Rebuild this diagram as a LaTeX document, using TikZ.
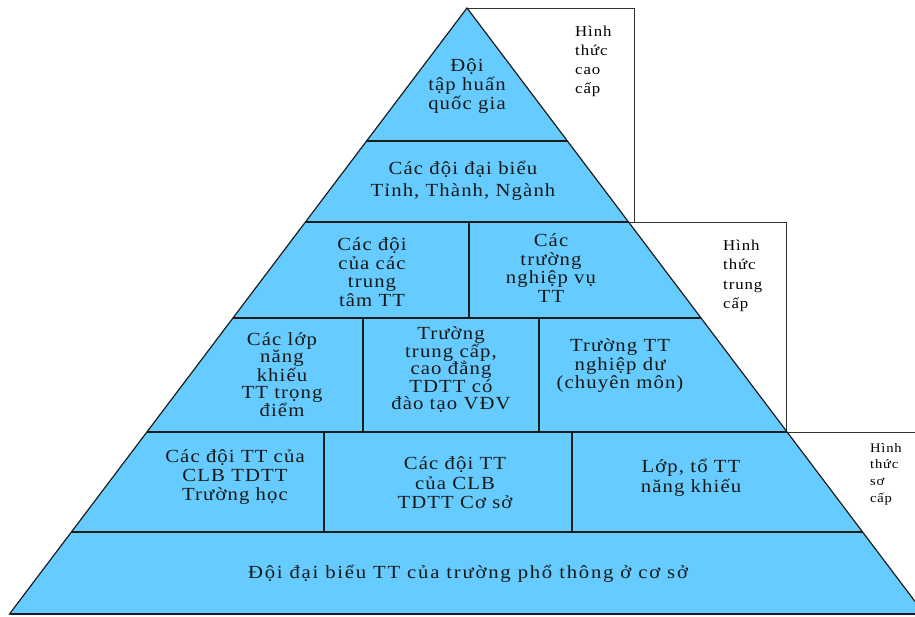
\documentclass[tikz,border=0pt]{standalone}
\usepackage{fontspec}
\setmainfont{Liberation Serif}[FakeStretch=1.12, LetterSpace=6]

\definecolor{pyr}{RGB}{102,204,255}
\definecolor{edge}{RGB}{28,28,28}
\definecolor{ink}{RGB}{24,24,24}
\definecolor{boxline}{RGB}{50,50,50}

\begin{document}
\begin{tikzpicture}[x=1pt, y=-1pt,
  tier/.style={fill=pyr, draw=edge, line width=1.2pt, line join=miter},
  sep/.style={draw=edge, line width=1.2pt},
  sidebox/.style={draw=boxline, line width=0.9pt, fill=white},
  lbl/.style={align=center, text=ink, inner sep=0pt, font=\fontsize{18.5}{19}\selectfont},
  side/.style={align=left, anchor=west, text=black, inner sep=0pt, font=\fontsize{15}{19}\selectfont}]

\clip (0,0) rectangle (915,616);

% side frames standing behind the pyramid
\draw[sidebox] (467,8) rectangle (634,222);
\draw[sidebox] (600,222) rectangle (786,432);
\draw[sidebox] (760,432) rectangle (940,614);

% pyramid outline and fill
\coordinate (apex) at (467,8);
\coordinate (bl) at (9.5,614);
\coordinate (br) at (924.5,614);
\filldraw[tier] (apex) -- (br) -- (bl) -- cycle;

% tier boundaries
\draw[sep] (366.6,141) -- (567.4,141);
\draw[sep] (305.4,222) -- (628.6,222);
\draw[sep] (232.9,318) -- (701.1,318);
\draw[sep] (146.9,432) -- (787.1,432);
\draw[sep, line width=2.4pt] (71.4,532) -- (862.6,532);
\draw[sep, line width=2.2pt] (bl) -- (br);

% cell dividers
\draw[sep] (469,222) -- (469,318);
\draw[sep] (363,318) -- (363,432);
\draw[sep] (539,318) -- (539,432);
\draw[sep] (324,432) -- (324,532);
\draw[sep] (572,432) -- (572,532);

% tier labels
\node[lbl] (t1) at (467,86) {Đội\\tập huấn\\quốc gia};
\node[lbl, font=\fontsize{18.5}{22}\selectfont] (t2) at (463,181) {Các đội đại biểu\\Tỉnh, Thành, Ngành};
\node[lbl, font=\fontsize{18.5}{18.5}\selectfont] (t3a) at (372,272) {Các đội\\của các\\trung\\tâm TT};
\node[lbl, font=\fontsize{18.5}{18.5}\selectfont] (t3b) at (551,268) {Các\\trường\\nghiệp vụ\\TT};
\node[lbl, font=\fontsize{18.5}{17}\selectfont] (t4a) at (282,375) {Các lớp\\năng\\khiếu\\TT trọng\\điểm};
\node[lbl, font=\fontsize{18.5}{17.5}\selectfont] (t4b) at (451,370) {Trường\\trung cấp,\\cao đẳng\\TDTT có\\đào tạo VĐV};
\node[lbl, font=\fontsize{18.5}{18.5}\selectfont] (t4c) at (620,366) {Trường TT\\nghiệp dư\\(chuyên môn)};
\node[lbl] (t5a) at (235,477) {Các đội TT của\\CLB TDTT\\Trường học};
\node[lbl, font=\fontsize{18.5}{19.5}\selectfont] (t5b) at (455,483) {Các đội TT\\của CLB\\TDTT Cơ sở};
\node[lbl, font=\fontsize{18.5}{20.5}\selectfont] (t5c) at (691,478) {Lớp, tổ TT\\năng khiếu};
\node[lbl, font=\fontsize{18.5}{19}\selectfont\addfontfeatures{LetterSpace=9.5}] (t6) at (468,574) {Đội đại biểu TT của trường phổ thông ở cơ sở};

% level captions
\node[side] (s1) at (575,61.5) {Hình\\thức\\cao\\cấp};
\node[side, font=\fontsize{15}{19.5}\selectfont] (s2) at (723,276) {Hình\\thức\\trung\\cấp};
\node[side, font=\fontsize{13}{16.7}\selectfont] (s3) at (870,474) {Hình\\thức\\sơ\\cấp};
\end{tikzpicture}
\end{document}
